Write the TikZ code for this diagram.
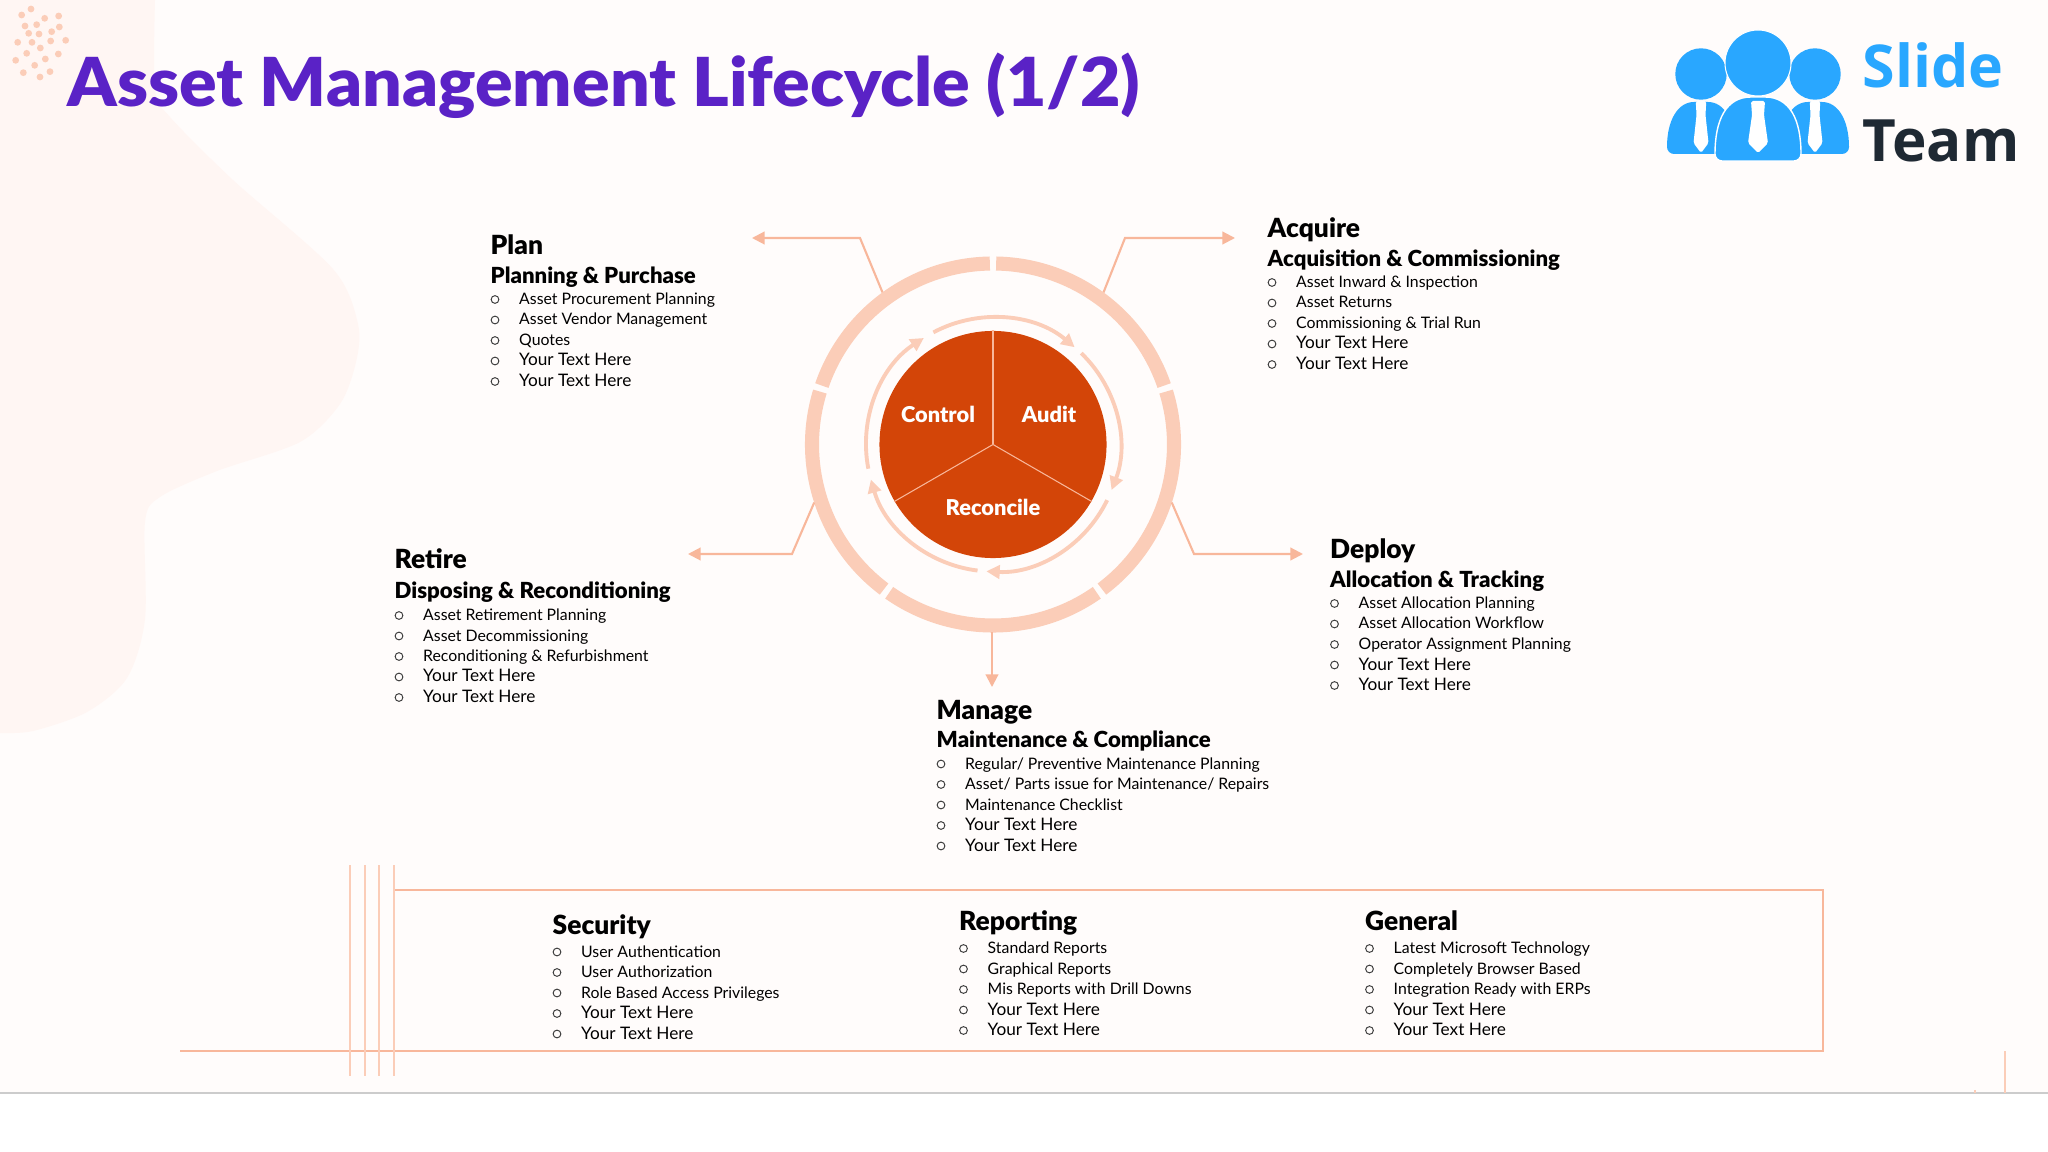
\documentclass[tikz,border=0pt]{standalone}
\usepackage{fontspec}
\usetikzlibrary{arrows.meta}
\setmainfont{Lato}
\newfontfamily\heavyfont{Lato Black}
\newfontfamily\titlefont[FakeStretch = 1.035]{Lato Black}
\newfontfamily\logofont{Open Sans}
\definecolor{titleviolet}{HTML}{5A22C6}
\definecolor{diskred}{HTML}{D34508}
\definecolor{ringpeach}{HTML}{FBCDB8}
\definecolor{linepeach}{HTML}{F8B79B}
\definecolor{pagepink}{HTML}{FFFCFB}
\definecolor{blobpink}{HTML}{FFF6F3}
\definecolor{logoblue}{HTML}{29A7FF}
\definecolor{logodark}{HTML}{1F2933}
\tikzset{
    headtext/.style = {anchor = base west, inner sep = 0, font = \heavyfont\fontsize{7.5}{8}\selectfont},
    subtext/.style = {anchor = base west, inner sep = 0, font = \heavyfont\fontsize{6.3}{7}\selectfont},
    itemtext/.style = {anchor = base west, inner sep = 0, font = \fontsize{4.5}{6}\selectfont},
    itemdot/.style = {circle, draw = black!75, line width = 0.28pt, inner sep = 0, minimum size = 2.2pt},
    disktext/.style = {text = white, inner sep = 0, font = \heavyfont\fontsize{6.2}{7}\selectfont},
    leader/.style = {draw = linepeach, line width = 0.6pt, -{Triangle[length = 3.6pt, width = 3.6pt]}},
    ringpart/.style = {draw = ringpeach, line width = 4pt},
    flowarc/.style = {draw = ringpeach, line width = 1.1pt, -{Triangle[length = 3.8pt, width = 3.8pt]}},
    framerule/.style = {draw = linepeach, line width = 0.7pt},
    crossrule/.style = {draw = ringpeach, line width = 0.5pt},
    logohead/.style = {circle, fill = logoblue, inner sep = 0},
}
\newcommand{\yourtext}{{\fontsize{4.9}{6}\selectfont Your Text Here}}
% first item baseline is given, the rest follow at one line pitch
\newcommand{\itemlist}[4]{
    \foreach \txt [count = \i] in {#4} {
        \node[itemdot] (#1-dot\i) at ({#2 + 5}, {#3 - (\i - 1) * 20.5 + 5}) {};
        \node[itemtext] (#1-\i) at ({#2 + 28.5}, {#3 - (\i - 1) * 20.5}) {\txt};
    }
}
\begin{document}
\begin{tikzpicture}[x = 0.01cm, y = 0.01cm]
    \useasboundingbox (0,0) rectangle (2048,-1152);
    \fill[white] (0,0) rectangle (2048,-1152);
    \fill[pagepink] (0,0) rectangle (2048,-1093);
    \fill[blobpink] plot[smooth] coordinates {(155,0) (155,-90) (170,-117) (233,-180) (333,-269) (358,-324) (356,-362) (340,-404) (300,-442) (217,-471) (160,-497) (145,-522) (145,-619) (127,-678) (87,-712) (33,-731) (0,-733)} -- (0,0) -- cycle;
    \draw[black!20, line width = 0.4pt] (0,-1093) -- (2048,-1093);

    % dots beside the title
    \foreach \dotx/\doty in {93/27, 65/45, 134/55, 176/48, 75/78, 110/74, 178/81, 86/100, 117/102, 155/95, 53/127, 96/127, 152/123, 197/121, 121/144, 80/160, 175/162, 47/181, 136/177, 104/196, 150/215, 70/218, 120/231}
        \fill[ringpeach] ({\dotx / 3}, {-\doty / 3}) circle (3.4);

    \node[anchor = base west, inner sep = 0, text = titleviolet, font = \titlefont\fontsize{19.2}{20}\selectfont] (title) at (67,-107) {Asset Management Lifecycle (1/2)};

    % logo
    \fill[logoblue, rounded corners = 2] (1667,-154) .. controls (1667,-120) and (1678,-102) .. (1701,-102) .. controls (1724,-102) and (1735,-120) .. (1735,-154) -- cycle;
    \fill[logoblue, rounded corners = 2] (1781,-154) .. controls (1781,-120) and (1792,-102) .. (1815,-102) .. controls (1838,-102) and (1849,-120) .. (1849,-154) -- cycle;
    \filldraw[fill = logoblue, draw = white, line width = 0.4pt, rounded corners = 2] (1715,-161) .. controls (1715,-120) and (1726,-97) .. (1758,-97) .. controls (1790,-97) and (1801,-120) .. (1801,-161) -- cycle;
    \node[logohead, minimum size = 0.514cm] (headleft) at (1701,-74) {};
    \node[logohead, minimum size = 0.514cm] (headright) at (1815,-74) {};
    \node[logohead, draw = white, line width = 0.3pt, minimum size = 0.66cm] (headmid) at (1758,-63) {};
    \foreach \tiex/\ties in {1701/0.75, 1815/0.75, 1758/1} {
        \fill[white, rounded corners = 0.5] ({\tiex - 7 * \ties},-101) -- ({\tiex + 7 * \ties},-101) -- ({\tiex + 6 * \ties},-115) -- ({\tiex + 10 * \ties},-143) -- (\tiex,-153) -- ({\tiex - 10 * \ties},-143) -- ({\tiex - 6 * \ties},-115) -- cycle;
    }
    \node[anchor = base west, inner sep = 0, text = logoblue, font = \logofont\fontsize{16.8}{20}\selectfont\bfseries] (slide) at (1862,-88) {Slide};
    \node[anchor = base west, inner sep = 0, text = logodark, font = \logofont\fontsize{16.6}{20}\selectfont\bfseries] (team) at (1862,-162) {Team};

    % wheel
    \begin{scope}[shift = {(993,-444.5)}]
        \foreach \arcfrom/\arcto in {91/161, 163/233, 235/305, 307/377, 379/449}
            \draw[ringpart] (\arcfrom:181) arc[start angle = \arcfrom, end angle = \arcto, radius = 181];
        \foreach \arcfrom/\arcto in {118/50, 46/-21, -26/-93, -97/-164, 191/123}
            \draw[flowarc] (\arcfrom:127) arc[start angle = \arcfrom, end angle = \arcto, radius = 127];
        \node[circle, fill = diskred, inner sep = 0, minimum size = 2.27cm] (disk) at (0,0) {};
        \coordinate (planfoot) at (126:188);
        \coordinate (acquirefoot) at (54:188);
        \coordinate (deployfoot) at (-18:188);
        \coordinate (retirefoot) at (198:188);
    \end{scope}
    \foreach \spoke in {90, -30, 210}
        \draw[linepeach, line width = 0.3pt] (disk.center) -- (disk.\spoke);
    \node[disktext] (control) at (938,-414) {Control};
    \node[disktext] (audit) at (1049,-414) {Audit};
    \node[disktext] (reconcile) at (993,-507) {Reconcile};

    % leaders to the five blocks
    \coordinate (planbend) at (860,-238);
    \coordinate (planend) at (752,-238);
    \coordinate (acquirebend) at (1125,-238);
    \coordinate (acquireend) at (1235,-238);
    \coordinate (deploybend) at (1194,-554);
    \coordinate (deployend) at (1303,-554);
    \coordinate (retirebend) at (792,-554);
    \coordinate (retireend) at (688,-554);
    \coordinate (managefoot) at (992,-632);
    \coordinate (manageend) at (992,-687);
    \draw[leader] (planfoot) -- (planbend) -- (planend);
    \draw[leader] (acquirefoot) -- (acquirebend) -- (acquireend);
    \draw[leader] (deployfoot) -- (deploybend) -- (deployend);
    \draw[leader] (retirefoot) -- (retirebend) -- (retireend);
    \draw[leader] (managefoot) -- (manageend);

    % text blocks
    \node[headtext] (plan) at (490,-255) {Plan};
    \node[subtext] (plansub) at (490,-283.5) {Planning \& Purchase};
    \itemlist{planitem}{490}{-304.5}{Asset Procurement Planning, Asset Vendor Management, Quotes, \yourtext, \yourtext}
    \node[headtext] (acquire) at (1267,-238) {Acquire};
    \node[subtext] (acquiresub) at (1267,-266.5) {Acquisition \& Commissioning};
    \itemlist{acquireitem}{1267}{-287.5}{Asset Inward \& Inspection, Asset Returns, Commissioning \& Trial Run, \yourtext, \yourtext}
    \node[headtext] (retire) at (394,-568.5) {Retire};
    \node[subtext] (retiresub) at (394,-598.5) {Disposing \& Reconditioning};
    \itemlist{retireitem}{394}{-620.5}{Asset Retirement Planning, Asset Decommissioning, Reconditioning \& Refurbishment, \yourtext, \yourtext}
    \node[headtext] (deploy) at (1329.5,-559) {Deploy};
    \node[subtext] (deploysub) at (1329.5,-587.5) {Allocation \& Tracking};
    \itemlist{deployitem}{1329.5}{-608.5}{Asset Allocation Planning, Asset Allocation Workflow, Operator Assignment Planning, \yourtext, \yourtext}
    \node[headtext] (manage) at (936,-719) {Manage};
    \node[subtext] (managesub) at (936,-747.5) {Maintenance \& Compliance};
    \itemlist{manageitem}{936}{-769}{Regular/ Preventive Maintenance Planning, Asset/ Parts issue for Maintenance/ Repairs, Maintenance Checklist, \yourtext, \yourtext}

    % bottom frame
    \coordinate (frametl) at (394,-890);
    \coordinate (frametr) at (1823,-890);
    \coordinate (framebr) at (1823,-1051);
    \coordinate (framebl) at (180,-1051);
    \draw[framerule] (frametl) -- (frametr) -- (framebr) -- (framebl);
    \foreach \crossx in {350, 365, 379, 394}
        \draw[crossrule] (\crossx,-865) -- (\crossx,-1076);
    \draw[crossrule] (2005,-1051) -- (2005,-1093);
    \draw[crossrule] (1975,-1090) -- (1975,-1093);

    \node[headtext] (security) at (552,-934.5) {Security};
    \itemlist{securityitem}{552}{-957}{User Authentication, User Authorization, Role Based Access Privileges, \yourtext, \yourtext}
    \node[headtext] (reporting) at (958.5,-930.5) {Reporting};
    \itemlist{reportingitem}{958.5}{-953.5}{Standard Reports, Graphical Reports, Mis Reports with Drill Downs, \yourtext, \yourtext}
    \node[headtext] (general) at (1364.5,-930.5) {General};
    \itemlist{generalitem}{1364.5}{-953.5}{Latest Microsoft Technology, Completely Browser Based, Integration Ready with ERPs, \yourtext, \yourtext}
\end{tikzpicture}
\end{document}
